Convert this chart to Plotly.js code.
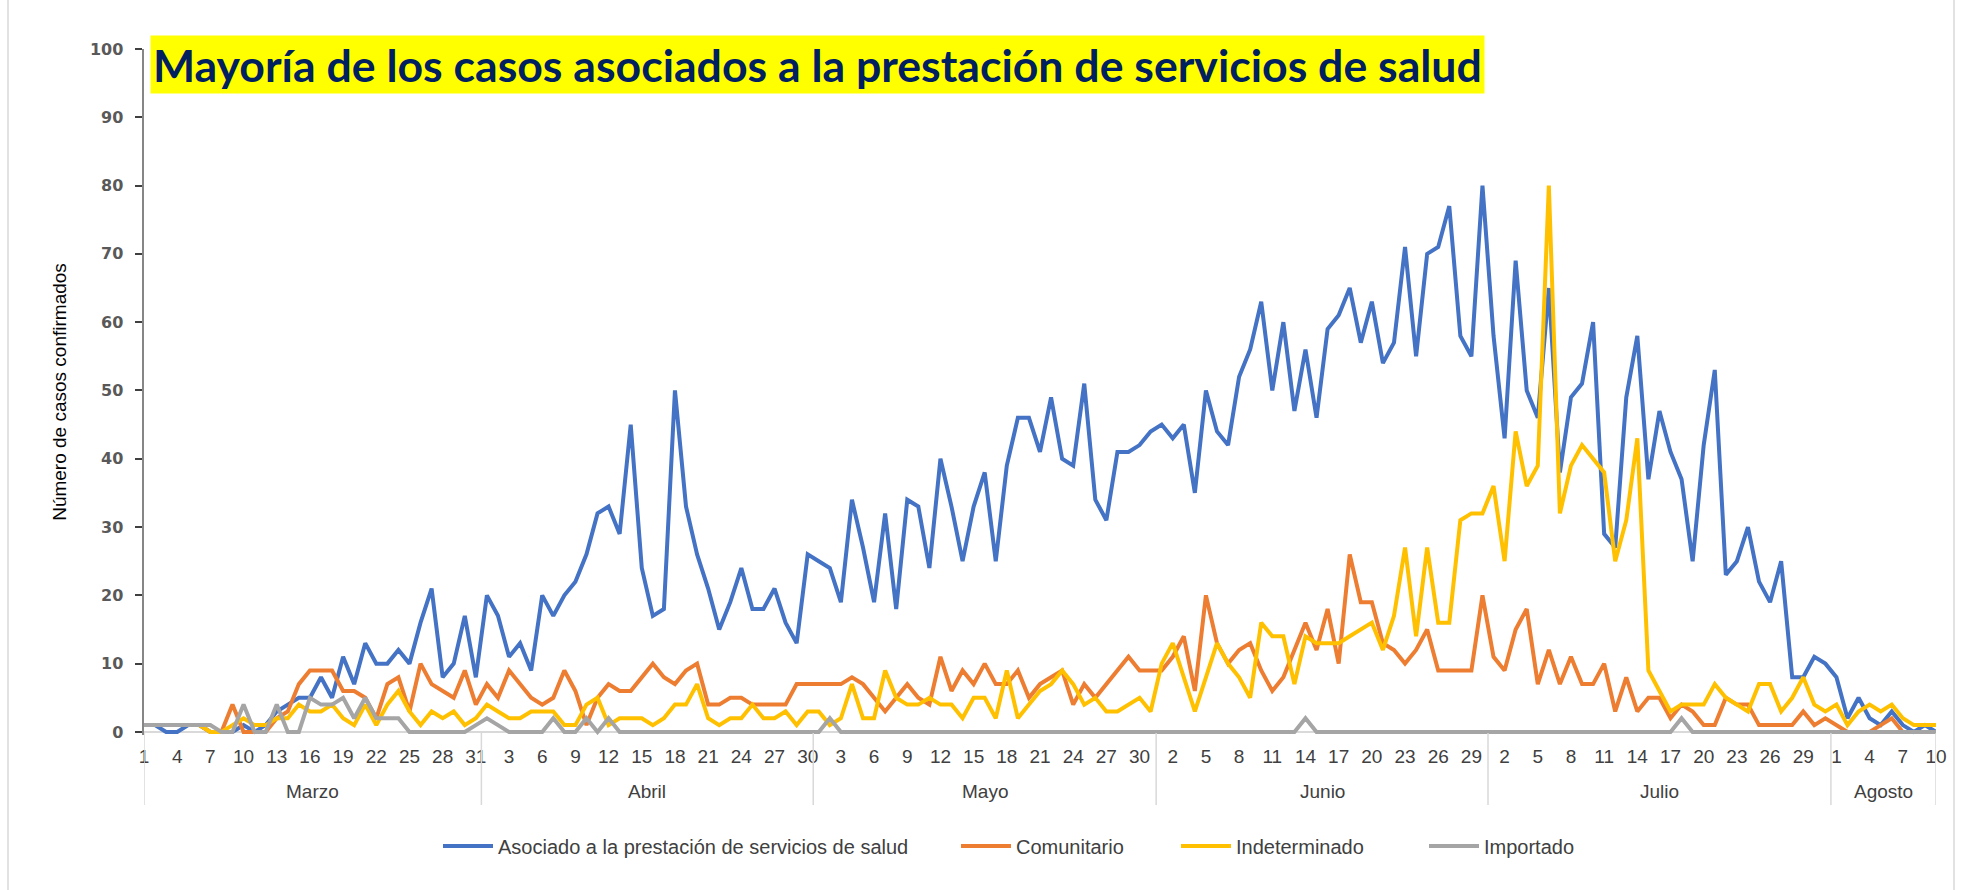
<!DOCTYPE html>
<html><head><meta charset="utf-8">
<script src="https://cdn.plot.ly/plotly-3.0.1.min.js"></script>
<style>html,body{margin:0;padding:0;background:#fff;} #chart{width:1969px;height:890px;}</style>
</head><body><div id="chart"></div>
<script>
// ---- data ----
const months = ['Marzo', 'Abril', 'Mayo', 'Junio', 'Julio', 'Agosto'];
const monthDays = [31, 30, 31, 30, 31, 10];

const asociado = [
  1,1,0,0,1,1,0,0,0,1, 0,1,3,4,5,5,8,5,11,7, 13,10,10,12,10,16,21,8,10,17, 8,
  20,17,11,13,9,20,17,20,22,26, 32,33,29,45,24,17,18,50,33,26, 21,15,19,24,18,18,21,16,13,26,
  25,24,19,34,27,19,32,18,34,33, 24,40,33,25,33,38,25,39,46,46, 41,49,40,39,51,34,31,41,41,42, 44,
  45,43,45,35,50,44,42,52,56,63, 50,60,47,56,46,59,61,65,57,63, 54,57,71,55,70,71,77,58,55,80,
  58,43,69,50,46,65,38,49,51,60, 29,27,49,58,37,47,41,37,25,42, 53,23,25,30,22,19,25,8,8,11, 10,
  8,2,5,2,1,3,1,0,1,0
];
const comunitario = [
  1,1,1,1,1,1,0,0,4,0, 0,0,2,3,7,9,9,9,6,6, 5,2,7,8,3,10,7,6,5,9, 4,
  7,5,9,7,5,4,5,9,6,1, 5,7,6,6,8,10,8,7,9,10, 4,4,5,5,4,4,4,4,7,7,
  7,7,7,8,7,5,3,5,7,5, 4,11,6,9,7,10,7,7,9,5, 7,8,9,4,7,5,7,9,11,9, 9,
  9,11,14,6,20,13,10,12,13,9, 6,8,12,16,12,18,10,26,19,19, 13,12,10,12,15,9,9,9,9,20,
  11,9,15,18,7,12,7,11,7,7, 10,3,8,3,5,5,2,4,3,1, 1,5,4,4,1,1,1,1,3,1, 2,
  1,0,0,0,1,2,0,0,0,0
];
const indeterminado = [
  1,1,1,1,1,1,0,0,1,2, 1,1,2,2,4,3,3,4,2,1, 4,1,4,6,3,1,3,2,3,1, 2,
  4,3,2,2,3,3,3,1,1,4, 5,1,2,2,2,1,2,4,4,7, 2,1,2,2,4,2,2,3,1,3,
  3,1,2,7,2,2,9,5,4,4, 5,4,4,2,5,5,2,9,2,4, 6,7,9,7,4,5,3,3,4,5, 3,
  10,13,8,3,8,13,10,8,5,16, 14,14,7,14,13,13,13,14,15,16, 12,17,27,14,27,16,16,31,32,32,
  36,25,44,36,39,80,32,39,42,40, 38,25,31,43,9,6,3,4,4,4, 7,5,4,3,7,7,3,5,8,4, 3,
  4,1,3,4,3,4,2,1,1,1
];
const importado = [
  1,1,1,1,1,1,1,0,0,4, 0,0,4,0,0,5,4,4,5,2, 5,2,2,2,0,0,0,0,0,0, 1,
  2,1,0,0,0,0,2,0,0,2, 0,2,0,0,0,0,0,0,0,0, 0,0,0,0,0,0,0,0,0,0,
  0,2,0,0,0,0,0,0,0,0, 0,0,0,0,0,0,0,0,0,0, 0,0,0,0,0,0,0,0,0,0, 0,
  0,0,0,0,0,0,0,0,0,0, 0,0,0,2,0,0,0,0,0,0, 0,0,0,0,0,0,0,0,0,0,
  0,0,0,0,0,0,0,0,0,0, 0,0,0,0,0,0,0,2,0,0, 0,0,0,0,0,0,0,0,0,0, 0,
  0,0,0,0,0,0,0,0,0,0
];
const seriesNames = ['Asociado a la prestación de servicios de salud', 'Comunitario', 'Indeterminado', 'Importado'];
const seriesColors = ['#4472C4', '#ED7D31', '#FFC000', '#A5A5A5'];
const titleText = 'Mayoría de los casos asociados a la prestación de servicios de salud';
const yTitle = 'Número de casos confirmados';

// ---- derived categories ----
const dayOfMonth = [], monthIdx = [];
months.forEach((m, k) => { for (let d = 1; d <= monthDays[k]; d++) { dayOfMonth.push(d); monthIdx.push(k); } });
const xIdx = dayOfMonth.map((_, i) => i);
const nDays = xIdx.length;
const tickVals = xIdx.filter(i => i % 3 === 0);
const tickText = tickVals.map(i => String(dayOfMonth[i]));

// month boundaries & centres (category coordinates)
const bounds = [0];
let acc = 0;
monthDays.forEach((n, k) => { acc += n; bounds.push(k === monthDays.length - 1 ? nDays - 1 : acc - 0.5); });
const centres = months.map((_, k) => (bounds[k] + bounds[k + 1]) / 2);

// ---- layout geometry (pixels) ----
const W = 1969, H = 890;
const mL = 144, mR = 33, mT = 49, mB = 155;
const plotW = W - mL - mR, plotH = H - mT - mB;
const px2x = p => (p - mL) / plotW;
const px2y = p => (H - mB - p) / plotH;

const narrow = 'Liberation Sans Narrow, Arial Narrow, Liberation Sans, sans-serif';
const arrays = [asociado, comunitario, indeterminado, importado];
const legendIds = ['legend', 'legend2', 'legend3', 'legend4'];
const legendLeftPx = [446, 964, 1184, 1432];

const traces = arrays.map((arr, k) => ({
  type: 'scatter', mode: 'lines', x: xIdx, y: arr, name: seriesNames[k],
  line: {color: seriesColors[k], width: 4}, legend: legendIds[k], hoverinfo: 'x+y'
}));

const shapes = bounds.map(b => ({
  type: 'line', xref: 'x', yref: 'paper', x0: b, x1: b, y0: px2y(733), y1: px2y(805),
  line: {color: '#D9D9D9', width: 1.5}
}));
shapes.push({type: 'line', xref: 'paper', yref: 'paper', x0: px2x(8), x1: px2x(8), y0: px2y(0), y1: px2y(890), line: {color: '#D9D9D9', width: 1.5}});
shapes.push({type: 'line', xref: 'paper', yref: 'paper', x0: px2x(1954), x1: px2x(1954), y0: px2y(0), y1: px2y(890), line: {color: '#D9D9D9', width: 1.5}});

const annotations = months.map((m, k) => ({
  text: m, xref: 'x', yref: 'paper', x: centres[k], y: px2y(791), showarrow: false,
  xanchor: 'center', yanchor: 'middle', font: {family: narrow, size: 19, color: '#404040'}
}));
annotations.push({
  text: '<b>' + titleText + '</b>', xref: 'paper', yref: 'paper', x: px2x(150), y: px2y(35),
  xanchor: 'left', yanchor: 'top', showarrow: false, bgcolor: '#FFFF00', borderpad: 2,
  font: {family: 'Lato, Liberation Sans, sans-serif', size: 44.6, color: '#002060'}
});

const layout = {
  width: W, height: H, paper_bgcolor: '#fff', plot_bgcolor: '#fff',
  margin: {l: mL, r: mR, t: mT, b: mB, pad: 0},
  showlegend: true,
  xaxis: {
    range: [0, nDays - 1], tickmode: 'array', tickvals: tickVals, ticktext: tickText,
    showgrid: false, zeroline: false, showline: false, ticks: '',
    tickfont: {family: narrow, size: 19, color: '#404040'}, ticklabelstandoff: 8, fixedrange: true
  },
  yaxis: {
    range: [-0.45, 100], tickvals: [0,10,20,30,40,50,60,70,80,90,100],
    showgrid: false, zeroline: true, zerolinecolor: '#D9D9D9', zerolinewidth: 2,
    showline: true, linecolor: '#868686', linewidth: 2.5, ticks: 'outside', ticklen: 7, tickwidth: 2, tickcolor: '#404040',
    tickfont: {family: 'DejaVu Sans', size: 16, color: '#595959', weight: 'bold'}, ticklabelstandoff: 8,
    title: {text: yTitle, font: {family: narrow, size: 19, color: '#000'}, standoff: 18}
  },
  shapes: shapes, annotations: annotations
};
legendIds.forEach((id, k) => {
  layout[id] = {x: px2x(legendLeftPx[k] - 8), y: px2y(846), xanchor: 'left', yanchor: 'middle', orientation: 'h',
    bgcolor: 'rgba(0,0,0,0)', font: {family: narrow, size: 20, color: '#404040'}, itemwidth: 50};
});
Plotly.newPlot('chart', traces, layout, {displayModeBar: false, staticPlot: true});
</script></body></html>
